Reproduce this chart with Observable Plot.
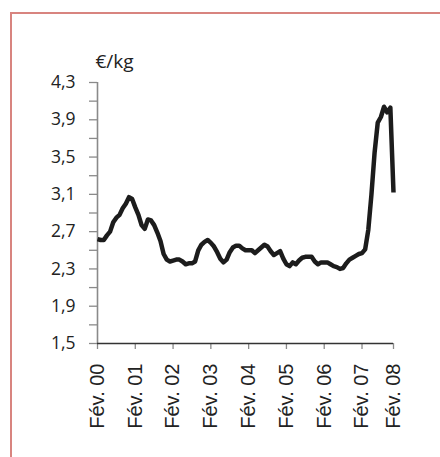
<!DOCTYPE html>
<html>
<head>
<meta charset="utf-8">
<script src="https://cdn.jsdelivr.net/npm/d3@7"></script>
<script src="https://cdn.jsdelivr.net/npm/@observablehq/plot@0.6"></script>
<style>
  html, body { margin: 0; padding: 0; background: #fff; }
  #wrap { position: relative; width: 440px; height: 457px; overflow: hidden; background: #fff; }
  #frame { position: absolute; left: 10px; top: 12px; width: 460px; height: 470px;
           border-top: 2px solid #d8847f; border-left: 2px solid #d8847f; pointer-events: none; }
  #chart { position: absolute; left: 0; top: 0; }
</style>
</head>
<body>
<div id="wrap"><div id="chart"></div><div id="frame"></div></div>
<script>
// Monthly prices (€/kg), Feb 2000 onward
const prices = [
  2.62, 2.61, 2.61, 2.66, 2.70, 2.80, 2.85, 2.88, 2.95, 3.00, 3.07, 3.05,
  2.96, 2.88, 2.77, 2.73, 2.83, 2.82, 2.77, 2.69, 2.60, 2.46, 2.40, 2.38,
  2.39, 2.40, 2.40, 2.38, 2.35, 2.36, 2.36, 2.38, 2.50, 2.56, 2.59, 2.61,
  2.58, 2.54, 2.48, 2.41, 2.37, 2.40, 2.48, 2.53, 2.55, 2.55, 2.52, 2.50,
  2.50, 2.50, 2.47, 2.50, 2.53, 2.56, 2.54, 2.49, 2.45, 2.47, 2.49, 2.41,
  2.35, 2.33, 2.37, 2.35, 2.39, 2.42, 2.43, 2.43, 2.43, 2.38, 2.35, 2.37,
  2.37, 2.37, 2.35, 2.33, 2.32, 2.30, 2.31, 2.36, 2.40, 2.42, 2.44, 2.46,
  2.47, 2.51, 2.72, 3.10, 3.55, 3.87, 3.93, 4.04, 3.98, 4.03, 3.12
];
const xTickIndex = [0, 12, 24, 36, 48, 60, 72, 84, 94];
const xTickLabels = ["Fév. 00", "Fév. 01", "Fév. 02", "Fév. 03", "Fév. 04", "Fév. 05", "Fév. 06", "Fév. 07", "Fév. 08"];
const yMajorTicks = [1.5, 1.9, 2.3, 2.7, 3.1, 3.5, 3.9, 4.3];
const yMinorTicks = [1.7, 2.1, 2.5, 2.9, 3.3, 3.7, 4.1];
const yUnit = "€/kg";

const data = prices.map((v, i) => ({i, v}));
const xLabels = xTickIndex.map((t, k) => ({t, label: xTickLabels[k]}));

const plot = Plot.plot({
  width: 440,
  height: 457,
  marginLeft: 97,
  marginRight: 47,
  marginTop: 82,
  marginBottom: 114,
  style: {background: "transparent", overflow: "visible"},
  x: {domain: [0, prices.length - 1], axis: null},
  y: {domain: [1.5, 4.3], axis: null},
  marks: [
    Plot.axisY({ticks: yMinorTicks, tickSize: 8, tickFormat: () => "", label: null, stroke: "#8a8a8a", strokeWidth: 1.3}),
    Plot.axisY({ticks: yMajorTicks, tickSize: 8, tickPadding: 14, label: null, stroke: "#8a8a8a", strokeWidth: 1.3,
      fontSize: 17.5, fontFamily: "Open Sans", fill: "#222",
      tickFormat: d => d.toFixed(1).replace(".", ",")}),
    Plot.axisX({ticks: xTickIndex, tickSize: 6, tickFormat: () => "", label: null, stroke: "#8a8a8a", strokeWidth: 1.3}),
    Plot.ruleX([0], {stroke: "#8a8a8a", strokeWidth: 1.6}),
    Plot.ruleY([1.5], {stroke: "#333", strokeWidth: 1.3}),
    Plot.text(xLabels, {x: "t", text: "label", frameAnchor: "bottom", dy: 20, rotate: -90,
      textAnchor: "end", lineAnchor: "middle", fontSize: 20, fontFamily: "Liberation Sans", fill: "#222"}),
    Plot.text([yUnit], {frameAnchor: "top-left", dx: -2, dy: -15, textAnchor: "start", lineAnchor: "bottom",
      fontSize: 19, fontFamily: "Open Sans", fill: "#222"}),
    Plot.line(data, {x: "i", y: "v", stroke: "#1c1c1c", strokeWidth: 4.5, strokeLinejoin: "round", strokeLinecap: "butt"})
  ]
});
document.getElementById("chart").appendChild(plot);
</script>
</body>
</html>
